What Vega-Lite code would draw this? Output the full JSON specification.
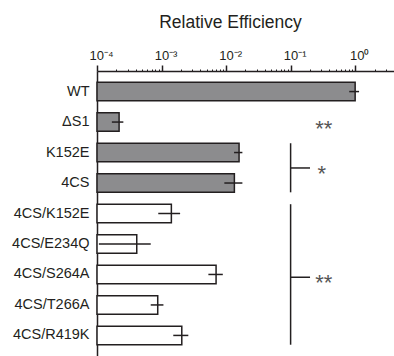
{
  "$schema": "https://vega.github.io/schema/vega-lite/v6.json",
  "width": 297,
  "height": 285,
  "autosize": {"type": "none"},
  "padding": {"left": 97, "top": 71, "right": 0, "bottom": 0},
  "config": {"view": {"stroke": null}, "font": "Liberation Sans"},
  "datasets": {
    "bars": [
      {"name": "WT", "value": 1.0, "lo": 0.81, "hi": 1.15, "group": "solid"},
      {"name": "ΔS1", "value": 0.00022, "lo": 0.00017, "hi": 0.000256, "group": "solid"},
      {"name": "K152E", "value": 0.0159, "lo": 0.0133, "hi": 0.0179, "group": "solid"},
      {"name": "4CS", "value": 0.01345, "lo": 0.0094, "hi": 0.0179, "group": "solid"},
      {"name": "4CS/K152E", "value": 0.00142, "lo": 0.00089, "hi": 0.00194, "group": "open"},
      {"name": "4CS/E234Q", "value": 0.000413, "lo": 0.000107, "hi": 0.00068, "group": "open"},
      {"name": "4CS/S264A", "value": 0.0070, "lo": 0.00532, "hi": 0.0089, "group": "open"},
      {"name": "4CS/T266A", "value": 0.000873, "lo": 0.00068, "hi": 0.00107, "group": "open"},
      {"name": "4CS/R419K", "value": 0.00206, "lo": 0.00152, "hi": 0.0026, "group": "open"}
    ],
    "brackets": [
      {"top": "K152E", "bottom": "4CS"},
      {"top": "4CS/K152E", "bottom": "4CS/R419K"}
    ]
  },
  "layer": [
    {
      "data": {"name": "bars"},
      "mark": {"type": "bar", "stroke": "#231f20", "strokeWidth": 1.5},
      "encoding": {
        "y": {
          "field": "name", "type": "nominal", "title": null,
          "scale": {"domain": ["WT", "ΔS1", "K152E", "4CS", "4CS/K152E", "4CS/E234Q", "4CS/S264A", "4CS/T266A", "4CS/R419K"], "paddingInner": 0.39, "paddingOuter": 0.37},
          "axis": {"domainColor": "#231f20", "domainWidth": 1.5, "ticks": false, "labelFontSize": 14.5, "labelColor": "#231f20", "labelPadding": 8, "labelFont": "Liberation Sans"}
        },
        "x": {
          "field": "value", "type": "quantitative",
          "scale": {"type": "log", "domain": [0.0001, 4], "nice": false},
          "axis": {
            "orient": "top", "grid": false, "title": "Relative Efficiency",
            "values": [0.0001, 0.0002, 0.0003, 0.0004, 0.0005, 0.0006, 0.0007, 0.0008, 0.0009, 0.001, 0.002, 0.003, 0.004, 0.005, 0.006, 0.007, 0.008, 0.009, 0.01, 0.02, 0.03, 0.04, 0.05, 0.06, 0.07, 0.08, 0.09, 0.1, 0.2, 0.3, 0.4, 0.5, 0.6, 0.7, 0.8, 0.9, 1, 2, 3, 4],
            "labelExpr": "abs(log(datum.value)/LN10 - round(log(datum.value)/LN10)) < 0.001 ? (round(log(datum.value)/LN10) == 0 ? '10⁰' : '10⁻' + ['⁰','¹','²','³','⁴'][-round(log(datum.value)/LN10)]) : ''",
            "labelFontSize": 13, "labelColor": "#231f20", "labelBaseline": "alphabetic", "labelPadding": 6, "labelOffset": 4, "labelFlush": false, "labelOverlap": false,
            "domainColor": "#231f20", "domainWidth": 1.5,
            "tickColor": "#231f20",
            "tickSize": {"condition": {"test": "abs(log(datum.value)/LN10 - round(log(datum.value)/LN10)) < 0.001", "value": 6}, "value": 2},
            "tickWidth": {"condition": {"test": "abs(log(datum.value)/LN10 - round(log(datum.value)/LN10)) < 0.001", "value": 1.5}, "value": 1},
            "titleFontSize": 17.5, "titleFontWeight": "normal", "titleColor": "#231f20", "titleX": 133, "titleY": -44, "titleAlign": "center", "titleBaseline": "alphabetic", "titleAnchor": null
          }
        },
        "x2": {"datum": 0.0001},
        "fill": {"field": "group", "type": "nominal", "scale": {"domain": ["solid", "open"], "range": ["#8c8c8e", "#ffffff"]}, "legend": null}
      }
    },
    {
      "data": {"name": "bars"},
      "mark": {"type": "rule", "color": "#231f20", "strokeWidth": 1.5},
      "encoding": {
        "y": {"field": "name", "type": "nominal"},
        "x": {"field": "lo", "type": "quantitative"},
        "x2": {"field": "hi"}
      }
    },
    {
      "data": {"name": "brackets"},
      "mark": {"type": "rule", "color": "#231f20", "strokeWidth": 1.5},
      "encoding": {
        "x": {"datum": 0.1, "type": "quantitative"},
        "y": {"field": "top", "type": "nominal", "bandPosition": 0},
        "y2": {"field": "bottom", "bandPosition": 1}
      }
    },
    {
      "data": {"values": [{"name": "K152E"}]},
      "mark": {"type": "rule", "color": "#231f20", "strokeWidth": 1.5},
      "encoding": {
        "x": {"datum": 0.1, "type": "quantitative"},
        "x2": {"datum": 0.2},
        "y": {"field": "name", "type": "nominal", "bandPosition": 1.33}
      }
    },
    {
      "data": {"values": [{"name": "4CS/S264A"}]},
      "mark": {"type": "rule", "color": "#231f20", "strokeWidth": 1.5},
      "encoding": {
        "x": {"datum": 0.1, "type": "quantitative"},
        "x2": {"datum": 0.2},
        "y": {"field": "name", "type": "nominal", "bandPosition": 0.65}
      }
    },
    {
      "data": {"values": [{"name": "ΔS1", "label": "**"}]},
      "mark": {"type": "text", "align": "left", "baseline": "alphabetic", "dy": 12.8, "fontSize": 22, "color": "#555555", "font": "Liberation Sans"},
      "encoding": {
        "x": {"datum": 0.24, "type": "quantitative"},
        "y": {"field": "name", "type": "nominal", "bandPosition": 0.55},
        "text": {"field": "label"}
      }
    },
    {
      "data": {"values": [{"name": "K152E", "label": "*"}]},
      "mark": {"type": "text", "align": "left", "baseline": "alphabetic", "dy": 12.8, "fontSize": 22, "color": "#555555", "font": "Liberation Sans"},
      "encoding": {
        "x": {"datum": 0.26, "type": "quantitative"},
        "y": {"field": "name", "type": "nominal", "bandPosition": 1.33},
        "text": {"field": "label"}
      }
    },
    {
      "data": {"values": [{"name": "4CS/S264A", "label": "**"}]},
      "mark": {"type": "text", "align": "left", "baseline": "alphabetic", "dy": 12.8, "fontSize": 22, "color": "#555555", "font": "Liberation Sans"},
      "encoding": {
        "x": {"datum": 0.24, "type": "quantitative"},
        "y": {"field": "name", "type": "nominal", "bandPosition": 0.65},
        "text": {"field": "label"}
      }
    }
  ]
}
